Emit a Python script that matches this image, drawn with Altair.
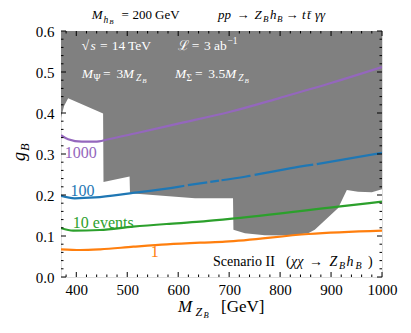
import altair as alt
import pandas as pd

FONT = "Liberation Serif"
X0, X1 = 370, 1000
Y0, Y1 = 0.0, 0.6
W, H = 321, 246
PL, PT = 53, 23

# ---- data ----
# lower boundary of the grey (excluded) region
region_x = [370, 376, 384, 452.6, 453.4, 504.6, 505.4, 633, 707.6, 708.4, 731, 770, 819, 855, 868, 914, 931, 953, 980, 1000]
region_g = [0.388, 0.417, 0.436, 0.399, 0.232, 0.245, 0.204, 0.192, 0.192, 0.115, 0.107, 0.102, 0.101, 0.107, 0.115, 0.168, 0.212, 0.208, 0.207, 0.214]

purple_x = [370, 384, 411, 437, 463, 515, 600, 702, 800, 900, 1000]
purple_g = [0.346, 0.336, 0.330, 0.330, 0.336, 0.350, 0.374, 0.403, 0.437, 0.473, 0.512]

blue_x = [370, 397, 437, 505, 600, 612, 619, 643, 657, 663, 680, 685, 731, 742, 750, 819, 865, 872, 1000]
blue_g = [0.198, 0.192, 0.194, 0.204, 0.220, 0.2225, 0.224, 0.2285, 0.231, 0.232, 0.235, 0.236, 0.2446, 0.247, 0.249, 0.265, 0.274, 0.2755, 0.303]
blue_seg = [0, 0, 0, 0, 0, 0, 1, 1, 1, 2, 2, 3, 3, 3, 4, 4, 4, 5, 5]

green_x = [370, 394, 446, 511, 577, 643, 692, 914, 1000]
green_g = [0.119, 0.113, 0.1146, 0.1227, 0.1293, 0.1349, 0.1407, 0.1715, 0.1837]

orange_x = [370, 408, 447, 512, 578, 643, 692, 856, 1000]
orange_g = [0.0676, 0.0659, 0.0676, 0.0739, 0.0797, 0.0837, 0.0861, 0.1049, 0.113]

label_text = ["1000", "100", "10 events", "1"]
label_x = [409, 412, 453, 554]
label_g = [0.302, 0.209, 0.132, 0.060]
label_col = ["#9467bd", "#1f77b4", "#2ca02c", "#ff7f0e"]

x_ticks = [400, 500, 600, 700, 800, 900, 1000]
y_ticks = [0.0, 0.1, 0.2, 0.3, 0.4, 0.5, 0.6]
x_minor = [v for v in range(380, 1001, 20) if v % 100 != 0]
y_minor = [round(i * 0.02, 2) for i in range(31) if i % 5 != 0]

# ---- scales / axes ----
xs = alt.Scale(domain=[X0, X1], nice=False, zero=False)
ys = alt.Scale(domain=[Y0, Y1], nice=False, zero=False)
xaxis = alt.Axis(values=x_ticks, labelFont=FONT, labelFontSize=15, labelColor="black",
                 ticks=False, tickSize=0, domain=False, grid=False, title=None,
                 labelPadding=5, labelFlush=False, format="d")
yaxis = alt.Axis(values=y_ticks, labelFont=FONT, labelFontSize=15, labelColor="black",
                 ticks=False, tickSize=0, domain=False, grid=False, title=None,
                 labelPadding=7, labelFlush=False, format=".1f")


def X(f):
    return alt.X(f, type="quantitative", scale=xs, axis=xaxis)


def Y(f):
    return alt.Y(f, type="quantitative", scale=ys, axis=yaxis, stack=None)


region = pd.DataFrame({"x": region_x, "g": region_g, "top": [Y1] * len(region_x)})
grey = alt.Chart(region).mark_area(color="#808080", fill="#808080", opacity=1, clip=True).encode(
    x=X("x"), y=Y("g"), y2=alt.Y2("top:Q"))


def curve(xv, gv, col, seg=None):
    df = pd.DataFrame({"x": xv, "g": gv, "seg": seg if seg else [0] * len(xv)})
    return alt.Chart(df).mark_line(color=col, strokeWidth=2.2, clip=True, interpolate="monotone").encode(
        x=X("x"), y=Y("g"), detail="seg:N")


lines = [
    curve(purple_x, purple_g, "#9467bd"),
    curve(blue_x, blue_g, "#1f77b4", blue_seg),
    curve(green_x, green_g, "#2ca02c"),
    curve(orange_x, orange_g, "#ff7f0e"),
]

labels = alt.Chart(pd.DataFrame({"x": label_x, "g": label_g, "t": label_text, "c": label_col})).mark_text(
    font=FONT, fontSize=16, align="center", baseline="middle").encode(
    x=X("x"), y=Y("g"), text="t:N", color=alt.Color("c:N", scale=None))

# ---- inward ticks ----
MAJ, MIN = 5, 2.5


def xt(vals, top, L):
    df = pd.DataFrame({"v": vals})
    if top:
        return alt.Chart(df).mark_rule(color="black", strokeWidth=1).encode(
            x=X("v"), y=alt.value(0), y2=alt.value(L))
    return alt.Chart(df).mark_rule(color="black", strokeWidth=1).encode(
        x=X("v"), y=alt.value(H), y2=alt.value(H - L))


def yt(vals, right, L):
    df = pd.DataFrame({"v": vals})
    if right:
        return alt.Chart(df).mark_rule(color="black", strokeWidth=1).encode(
            y=Y("v"), x=alt.value(W), x2=alt.value(W - L))
    return alt.Chart(df).mark_rule(color="black", strokeWidth=1).encode(
        y=Y("v"), x=alt.value(0), x2=alt.value(L))


ticks = [xt(x_ticks, False, MAJ), xt(x_ticks, True, MAJ), xt(x_minor, False, MIN), xt(x_minor, True, MIN),
         yt(y_ticks, False, MAJ), yt(y_ticks, True, MAJ), yt(y_minor, False, MIN), yt(y_minor, True, MIN)]

# ---- text pieces (mathematical labels) ----
pieces = []


def dx(px):
    return X0 + (px - 61) * (X1 - X0) / W


def dy(py):
    return Y1 - (py - 31) * (Y1 - Y0) / H


def P(t, px, py, s, it=False, c="black", ang=0):
    pieces.append({"x": dx(px), "y": dy(py), "t": t, "s": s, "it": it, "c": c, "ang": ang})


# title
P("M", 91.7, 19.3, 13, True)
P("h", 103.5, 22.5, 9.5, True)
P("B", 109.2, 24.2, 7, True)
P("=", 121.5, 19.3, 13)
P("200", 132.5, 19.3, 13)
P("GeV", 155, 19.3, 13)
P("pp", 218, 19.3, 13, True)
P("→", 236.5, 19.3, 13)
P("Z", 254.5, 19.3, 13, True)
P("B", 263, 21.8, 9, True)
P("h", 270, 19.3, 13, True)
P("B", 277, 21.8, 9, True)
P("→", 285.5, 19.3, 13)
P("t", 302, 19.3, 13, True)
P("t\u0304", 307, 19.3, 13, True)
P("γγ", 315, 19.3, 13, True)

# white annotations
Wc = "white"
P("√", 81.7, 50, 13.5, False, Wc)
P("s", 90.5, 50, 13.5, True, Wc)
P("=", 100, 50, 13.5, False, Wc)
P("14", 111.7, 50, 13.5, False, Wc)
P("TeV", 128, 50, 13.5, False, Wc)
P("ℒ", 178, 50, 13.5, False, Wc)
P("=", 191.7, 50, 13.5, False, Wc)
P("3", 204, 50, 13.5, False, Wc)
P("ab", 214, 50, 13.5, False, Wc)
P("−1", 227.5, 44, 9.5, False, Wc)

P("M", 81.7, 78.3, 13.5, True, Wc)
P("Ψ", 93.5, 81.3, 9.5, False, Wc)
P("=", 103, 78.3, 13.5, False, Wc)
P("3", 116.5, 78.3, 13.5, False, Wc)
P("M", 122.7, 78.3, 13.5, True, Wc)
P("Z", 136, 81.3, 9.5, True, Wc)
P("B", 142.3, 83, 7, True, Wc)
P("M", 175, 78.3, 13.5, True, Wc)
P("Σ", 186.5, 81.3, 9.5, False, Wc)
P("=", 195, 78.3, 13.5, False, Wc)
P("3.5", 208.3, 78.3, 13.5, False, Wc)
P("M", 225, 78.3, 13.5, True, Wc)
P("Z", 238.3, 81.3, 9.5, True, Wc)
P("B", 244.6, 83, 7, True, Wc)

# scenario
P("Scenario II", 213, 266, 14)
P("(", 286, 266, 14)
P("χχ", 291, 266, 14, True)
P("→", 309, 266, 14)
P("Z", 329.5, 266, 14, True)
P("B", 339, 268.8, 10, True)
P("h", 346.5, 266, 14, True)
P("B", 355.5, 268.8, 10, True)
P(")", 368, 266, 14)

# x title
P("M", 178, 312, 17, True)
P("Z", 195.5, 315.5, 12, True)
P("B", 203.5, 318, 8.5, True)
P("[GeV]", 221, 312, 17)

# y title
P("g", 25, 161, 18, True, "black", 270)
P("B", 28.5, 151, 12.5, True, "black", 270)

pdf = pd.DataFrame(pieces)
text_layers = []
for it in (False, True):
    for ang in (0, 270):
        sub = pdf[(pdf["it"] == it) & (pdf["ang"] == ang)]
        if len(sub) == 0:
            continue
        text_layers.append(
            alt.Chart(sub[["x", "y", "t", "s", "c"]]).mark_text(
                font=FONT, fontStyle="italic" if it else "normal", align="left",
                baseline="alphabetic", angle=ang, clip=False).encode(
                x=X("x"), y=Y("y"), text="t:N",
                size=alt.Size("s:Q", scale=None), color=alt.Color("c:N", scale=None)))

chart = alt.layer(grey, *lines, labels, *ticks, *text_layers).properties(
    width=W, height=H,
    autosize=alt.AutoSizeParams(type="none"),
    padding={"left": PL, "top": PT, "right": 411 - 16 - PL - W, "bottom": 333 - 16 - PT - H},
    background="white",
).configure_view(stroke="black", strokeWidth=1.8).configure(font=FONT).configure_axis(
    labelFont=FONT, labelFontSize=15)

chart.save("out.html", embed_options={"renderer": "svg", "actions": False})
